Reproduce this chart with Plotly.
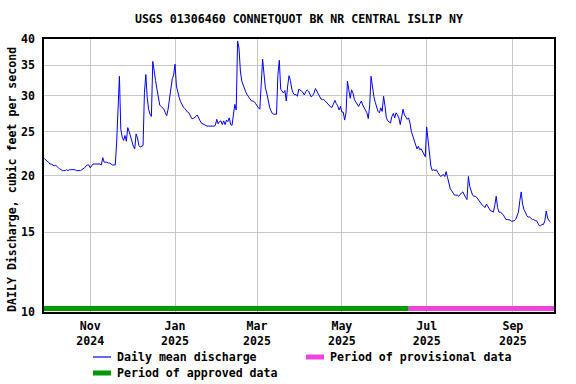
import math
import pandas as pd
import plotly.graph_objects as go

TITLE = "USGS 01306460 CONNETQUOT BK NR CENTRAL ISLIP NY"
Y_TITLE = "DAILY Discharge, cubic feet per second"

START_DATE = "2024-09-29"
discharge = [
    21.8, 21.6, 21.5, 21.4, 21.2, 21.2, 21.1, 21.0, 21.1, 20.9,
    20.8, 20.7, 20.6, 20.5, 20.5, 20.5, 20.6, 20.5, 20.6, 20.6,
    20.6, 20.6, 20.6, 20.5, 20.5, 20.5, 20.5, 20.6, 20.7, 20.8,
    21.0, 21.1, 21.1, 20.8, 21.0, 21.2, 21.2, 21.2, 21.2, 21.2,
    21.2, 21.1, 21.9, 21.4, 21.4, 21.4, 21.3, 21.3, 21.2, 21.1,
    21.1, 21.1, 23.6, 29.0, 33.1, 25.3, 24.3, 23.9, 24.5, 23.8,
    25.5, 25.0, 24.3, 23.5, 23.2, 22.9, 24.7, 24.2, 23.3, 23.1,
    23.2, 23.3, 30.5, 33.4, 29.7, 28.0, 27.3, 27.0, 35.7, 33.5,
    32.4, 31.0, 29.4, 28.6, 28.4, 28.2, 28.0, 27.5, 27.1, 28.0,
    29.4, 31.0, 32.7, 33.3, 35.2, 31.5, 30.3, 29.7, 29.1, 28.6,
    28.3, 28.1, 27.8, 27.6, 27.5, 27.0, 26.7, 26.7, 26.8, 27.0,
    27.2, 26.7, 26.4, 26.1, 26.0, 25.8, 25.8, 25.7, 25.7, 25.7,
    25.7, 25.7, 25.7, 25.8, 26.6, 26.0, 26.3, 26.4, 25.9, 26.4,
    25.9, 26.5, 26.3, 26.8, 25.9, 25.8, 27.3, 28.7, 27.9, 39.6,
    38.2, 34.0, 32.3, 31.6, 30.9, 30.5, 30.1, 29.8, 29.5, 29.2,
    29.2, 29.1, 28.8, 28.4, 28.2, 28.0, 31.0, 36.1, 33.5, 31.2,
    30.4, 29.0, 28.3, 27.8, 27.4, 27.3, 27.3, 27.3, 33.4, 35.9,
    31.0, 30.6, 30.4, 30.8, 29.2, 31.5, 33.2, 32.4, 31.0, 30.4,
    30.1, 30.2, 29.9, 31.0, 30.9, 30.7, 30.5, 30.1, 30.6, 30.9,
    30.7, 30.2, 29.8, 30.0, 30.4, 31.1, 30.7, 30.2, 29.8, 29.5,
    29.4, 29.4, 29.2, 29.0, 28.8, 28.5, 28.3, 28.3, 28.9, 29.3,
    28.8, 28.5, 27.9, 28.4, 27.6, 27.6, 26.5, 27.5, 32.3, 31.0,
    29.6, 30.9, 30.4, 29.4, 29.0, 28.7, 28.4, 28.8, 29.2, 28.6,
    28.2, 27.9, 27.5, 26.7, 28.5, 33.1, 31.0, 29.9, 29.0, 28.2,
    27.7, 27.5, 28.2, 27.7, 29.9, 28.5, 26.8, 26.4, 26.2, 26.1,
    27.0, 27.4, 26.8, 27.5, 27.2, 26.8, 25.9, 27.0, 28.0, 27.2,
    26.8, 26.6, 26.8, 26.1, 25.0, 24.5, 23.8, 23.4, 22.9, 23.2,
    22.8, 22.9, 22.6, 22.2, 22.0, 25.6, 24.0, 21.8, 21.0, 20.5,
    20.6, 20.5, 20.6, 20.3, 20.1, 19.9, 20.0, 20.1, 19.9, 20.4,
    19.8, 19.2, 18.7, 18.5, 18.3, 18.1, 18.1, 18.1, 18.0, 18.2,
    18.3, 18.4, 18.1, 17.9, 17.7, 19.9, 18.9, 18.4, 18.1, 18.0,
    18.0, 17.9, 17.7, 17.5, 17.3, 17.2, 17.1, 17.0, 17.3, 17.1,
    16.8, 16.7, 16.7, 16.6, 17.2, 18.0, 17.0, 16.6, 16.6, 16.5,
    16.4, 16.2, 16.0, 16.0, 16.0, 15.95, 15.85, 15.85, 15.9, 16.0,
    16.3, 16.6, 17.6, 18.4, 17.3, 16.8, 16.6, 16.3, 16.2, 16.2,
    16.1, 16.0, 16.0, 15.9, 15.9, 15.7, 15.5, 15.5, 15.6, 15.6,
    15.9, 16.7, 16.1, 15.9, 15.8,
]
dates = pd.date_range(START_DATE, periods=len(discharge), freq="D")

# axis window and data-status periods
x_range = ["2024-09-28 18:00", "2025-09-30 14:00"]
approved_period = ["2024-09-28 18:00", "2025-06-18"]
provisional_period = ["2025-06-18", "2025-09-30 14:00"]

x_tick_dates = ["2024-11-01", "2025-01-01", "2025-03-01", "2025-05-01", "2025-07-01", "2025-09-01"]
x_tick_labels = ["Nov<br>2024", "Jan<br>2025", "Mar<br>2025", "May<br>2025", "Jul<br>2025", "Sep<br>2025"]
y_ticks = [10, 15, 20, 25, 30, 35, 40]
y_tick_labels = ["10", "15", "20", "25", "30", "35", "40"]

legend_labels = ["Daily mean discharge", "Period of provisional data", "Period of approved data"]

Y_MIN, Y_MAX = 10, 40
BAR_LEVEL = 10.18

FONT = dict(family="DejaVu Sans Mono", size=11.6, color="black", weight="bold")
GRID = "#c8c8c8"
BLUE, PINK, GREEN = "#0000ff", "#ee44dd", "#009900"

# figure geometry (pixels)
W, H = 576, 384
ML, MR, MT, MB = 44, 22, 39, 72
PW, PH = W - ML - MR, H - MT - MB


def px_x(x):
    return (x - ML) / PW


def px_y(y):
    return (H - MB - y) / PH


fig = go.Figure()
fig.add_trace(go.Scatter(
    x=dates, y=discharge, mode="lines", name=legend_labels[0],
    line=dict(color=BLUE, width=1), showlegend=False,
))
fig.add_trace(go.Scatter(
    x=provisional_period, y=[BAR_LEVEL, BAR_LEVEL], mode="lines",
    name=legend_labels[1], line=dict(color=PINK, width=5), showlegend=False,
))
fig.add_trace(go.Scatter(
    x=approved_period, y=[BAR_LEVEL, BAR_LEVEL], mode="lines",
    name=legend_labels[2], line=dict(color=GREEN, width=5), showlegend=False,
))

# manual legend: (sample x0, row y, colour, width, label)
legend_items = [
    (93, 357, BLUE, 1.2, legend_labels[0]),
    (306, 357, PINK, 5, legend_labels[1]),
    (93, 373, GREEN, 5, legend_labels[2]),
]
shapes = []
annotations = []
for x0, yy, col, lw, lab in legend_items:
    shapes.append(dict(type="line", xref="paper", yref="paper",
                       x0=px_x(x0), x1=px_x(x0 + 18), y0=px_y(yy), y1=px_y(yy),
                       line=dict(color=col, width=lw)))
    annotations.append(dict(text=lab, xref="paper", yref="paper",
                            x=px_x(x0 + 22), y=px_y(yy), xanchor="left",
                            yanchor="middle", showarrow=False, font=FONT))

# y-axis title as rotated text
annotations.append(dict(text=Y_TITLE, xref="paper", yref="paper",
                        x=px_x(12), y=px_y(180), xanchor="center",
                        yanchor="middle", textangle=-90, showarrow=False,
                        font=FONT))

fig.update_layout(
    width=W, height=H,
    margin=dict(l=ML, r=MR, t=MT, b=MB, autoexpand=False),
    paper_bgcolor="white", plot_bgcolor="white",
    font=FONT,
    title=dict(text=TITLE, x=0.519, xanchor="center", y=1 - 19 / 384,
               yanchor="middle", yref="container", font=FONT),
    showlegend=False,
    shapes=shapes,
    annotations=annotations,
    xaxis=dict(
        type="date", range=x_range, tickmode="array", tickvals=x_tick_dates,
        ticktext=x_tick_labels, showgrid=True, gridcolor=GRID, gridwidth=1,
        showline=True, linecolor="black", linewidth=1.5, mirror=True,
        ticks="", ticklabelstandoff=2, zeroline=False, tickfont=FONT,
        automargin=False,
    ),
    yaxis=dict(
        type="log", range=[math.log10(Y_MIN), math.log10(Y_MAX)],
        tickmode="array", tickvals=y_ticks, ticktext=y_tick_labels,
        showgrid=True, gridcolor=GRID, gridwidth=1,
        showline=True, linecolor="black", linewidth=1.5, mirror=True,
        ticks="", ticklabelstandoff=5, zeroline=False, tickfont=FONT,
        automargin=False,
    ),
)

fig.write_html("out.html")
